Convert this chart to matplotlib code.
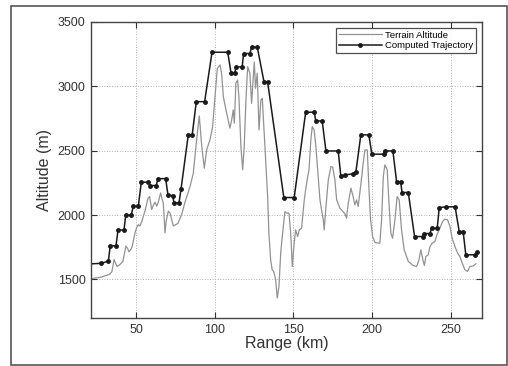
import matplotlib
matplotlib.use('Agg')
import matplotlib.pyplot as plt
from matplotlib.patches import Rectangle

# terrain profile (km, m)
terrain_km = [20, 21.2, 27.8, 33.1, 34.5, 35.9, 37.0, 37.9, 40.0, 41.5, 43.4, 44.5, 45.3, 46.5, 47.5,
              49.2, 50.2, 51.3, 52.3, 53.5, 55.5, 57.6, 58.5, 59.8, 61.0, 62.0, 63.0, 64.0, 65.5,
              66.5, 67.2, 68.3, 69.0, 70.4, 71.5, 73.6, 76.5, 78.9, 81.0, 84.2, 86.3, 88.4, 90.1,
              91.6, 93.3, 94.8, 96.9, 98.6, 100.1, 101.6, 103.3, 104.3, 105.4, 107.1, 108.5, 109.6,
              110.7, 111.7, 112.4, 113.4, 114.5, 115.3, 116.6, 117.7, 118.7, 119.8, 120.9, 122.3,
              123.4, 124.4, 125.1, 125.9, 127.0, 128.1, 129.3, 130.2, 131.9, 133.6, 134.4, 135.5,
              136.5, 137.5, 138.7, 139.7, 140.8, 141.9, 142.9, 144.0, 144.6, 145.7, 147.2, 148.4,
              149.3, 150.3, 151.4, 152.7, 153.7, 155.2, 156.9, 158.4, 159.9, 161.1, 162.0, 163.2,
              164.3, 165.8, 166.9, 167.9, 169.0, 169.6, 170.7, 172.2, 173.9, 175.0, 176.4, 177.5,
              179.6, 182.8, 183.8, 184.9, 186.6, 188.0, 189.1, 190.2, 191.2, 193.0, 194.4, 195.5,
              197.0, 198.0, 199.1, 200.4, 201.9, 205.0, 206.1, 207.2, 208.2, 209.7, 210.8, 212.0,
              213.1, 214.6, 216.0, 217.3, 218.8, 220.5, 223.1, 226.2, 228.4, 229.9, 231.1, 232.4,
              233.3, 234.3, 235.8, 236.9, 238.3, 240.0, 241.3, 243.2, 244.9, 246.4, 248.1, 249.6,
              251.0, 252.8, 254.5, 255.9, 257.4, 259.1, 260.8, 262.3, 264.4, 266.1]
terrain_alt = [1500, 1505, 1518, 1540, 1560, 1655, 1620, 1600, 1620, 1640, 1759, 1740, 1715, 1730, 1760,
               1862, 1900, 1926, 1914, 1950, 2030, 2134, 2144, 2043, 2080, 2100, 2069, 2100, 2172,
               2120, 2095, 1862, 1950, 2030, 2015, 1915, 1935, 2004, 2100, 2221, 2325, 2584, 2770,
               2545, 2364, 2506, 2584, 2687, 2920, 3140, 3166, 3102, 2920, 2817, 2739, 2675,
               2739, 2817, 2714, 3024, 3050, 2920, 2532, 2351, 2532, 2894, 3153, 3102,
               2868, 3050, 3190, 2985, 3102, 2661, 2894, 2907, 2532, 2144, 1859, 1652,
               1575, 1560, 1497, 1355, 1445, 1704, 1833, 1963, 2027, 2015, 2015, 1833,
               1600, 1755, 1885, 1833, 1885, 1898, 2118, 2248, 2351, 2584, 2687, 2661,
               2532, 2299, 2118, 2040, 1963, 1885, 2066, 2273, 2377, 2372, 2273, 2118,
               2053, 2010, 1976, 2092, 2209, 2144, 2079, 2118, 2066, 2248, 2403, 2506,
               2506, 2221, 1963, 1833, 1786, 1781, 1963, 2299, 2390, 2351, 2092, 1859,
               1820, 1963, 2144, 2118, 1885, 1730, 1639, 1608, 1600, 1652, 1730, 1652,
               1608, 1678, 1691, 1755, 1781, 1794, 1846, 1898, 1950, 1968, 1963, 1911,
               1820, 1755, 1704, 1678, 1627, 1575, 1562, 1600, 1605, 1621]

# computed trajectory waypoints
traj_km = [20, 27.8, 32.3, 33.4, 37.1, 38.4, 42.2, 43.3, 46.8, 48.1, 51.3, 53.2, 57.7, 58.9, 62.7,
           63.8, 68.7, 70.2, 73.2, 74.0, 77.2, 78.5, 83.1, 85.6, 88.2, 93.5, 98.2, 108.2, 110.3,
           112.8, 113.4, 117.4, 118.3, 122.3, 123.4, 127.0, 131.3, 133.6, 143.9, 150.5, 157.8,
           163.3, 164.2, 168.3, 170.7, 178.5, 180.2, 183.0, 187.6, 189.8, 192.9, 198.0, 199.9,
           207.5, 208.0, 213.3, 215.7, 218.3, 219.1, 223.1, 227.1, 232.6, 233.3, 236.9, 237.9,
           241.5, 242.8, 247.4, 252.9, 255.5, 258.0, 259.7, 265.5, 266.6]
traj_alt = [1620, 1625, 1642, 1761, 1761, 1883, 1883, 1999, 1999, 2069, 2069, 2255, 2255, 2229, 2229,
            2283, 2283, 2154, 2151, 2095, 2095, 2203, 2623, 2623, 2881, 2881, 3265, 3265, 3105,
            3105, 3151, 3151, 3255, 3255, 3305, 3305, 3034, 3034, 2136, 2136, 2799,
            2799, 2731, 2731, 2498, 2498, 2300, 2312, 2320, 2338, 2623, 2623, 2473,
            2473, 2498, 2498, 2255, 2255, 2175, 2175, 1833, 1833, 1856, 1856, 1898,
            1898, 2058, 2064, 2064, 1872, 1872, 1691, 1691, 1709]

xticks = [50, 100, 150, 200, 250]
yticks = [1500, 2000, 2500, 3000, 3500]

plt.rcParams['font.family'] = ['Liberation Sans', 'DejaVu Sans']

fig = plt.figure(figsize=(5.08, 3.66), dpi=100)
ax = fig.add_axes([91/508, 48/366, 391/508, 296/366])

ax.plot(terrain_km, terrain_alt, color='#929292', lw=0.9, label='Terrain Altitude')
ax.plot(traj_km, traj_alt, color='#1a1a1a', lw=1.1, marker='o', markersize=2.5,
        label='Computed Trajectory')

ax.set_xlim(21.2, 270)
ax.set_ylim(1200, 3500)
ax.set_xticks(xticks)
ax.set_yticks(yticks)
ax.grid(True, linestyle=':', color='#b0b0b0', lw=0.7)
ax.tick_params(direction='in', top=True, right=True, labelsize=9, length=4, colors='#333333',
               pad=4)
for s in ax.spines.values():
    s.set_color('#444444')
    s.set_linewidth(1.0)

ax.set_xlabel('Range (km)', fontsize=11.5, color='#333333', labelpad=0)
ax.set_ylabel('Altitude (m)', fontsize=11.5, color='#333333', labelpad=4)

leg = ax.legend(loc='upper right', fontsize=6.8, frameon=True, fancybox=False,
                borderpad=0.3, labelspacing=0.15, handlelength=4.5, handletextpad=0.4,
                borderaxespad=0.6)
leg.get_frame().set_edgecolor('#222222')
leg.get_frame().set_linewidth(0.9)

# outer frame around the figure
fig.add_artist(Rectangle((11/508, 1.5/366), 495.5/508, 358.5/366, transform=fig.transFigure,
                         fill=False, ec='#555555', lw=1.2))

fig.savefig('out.png', dpi=100)
